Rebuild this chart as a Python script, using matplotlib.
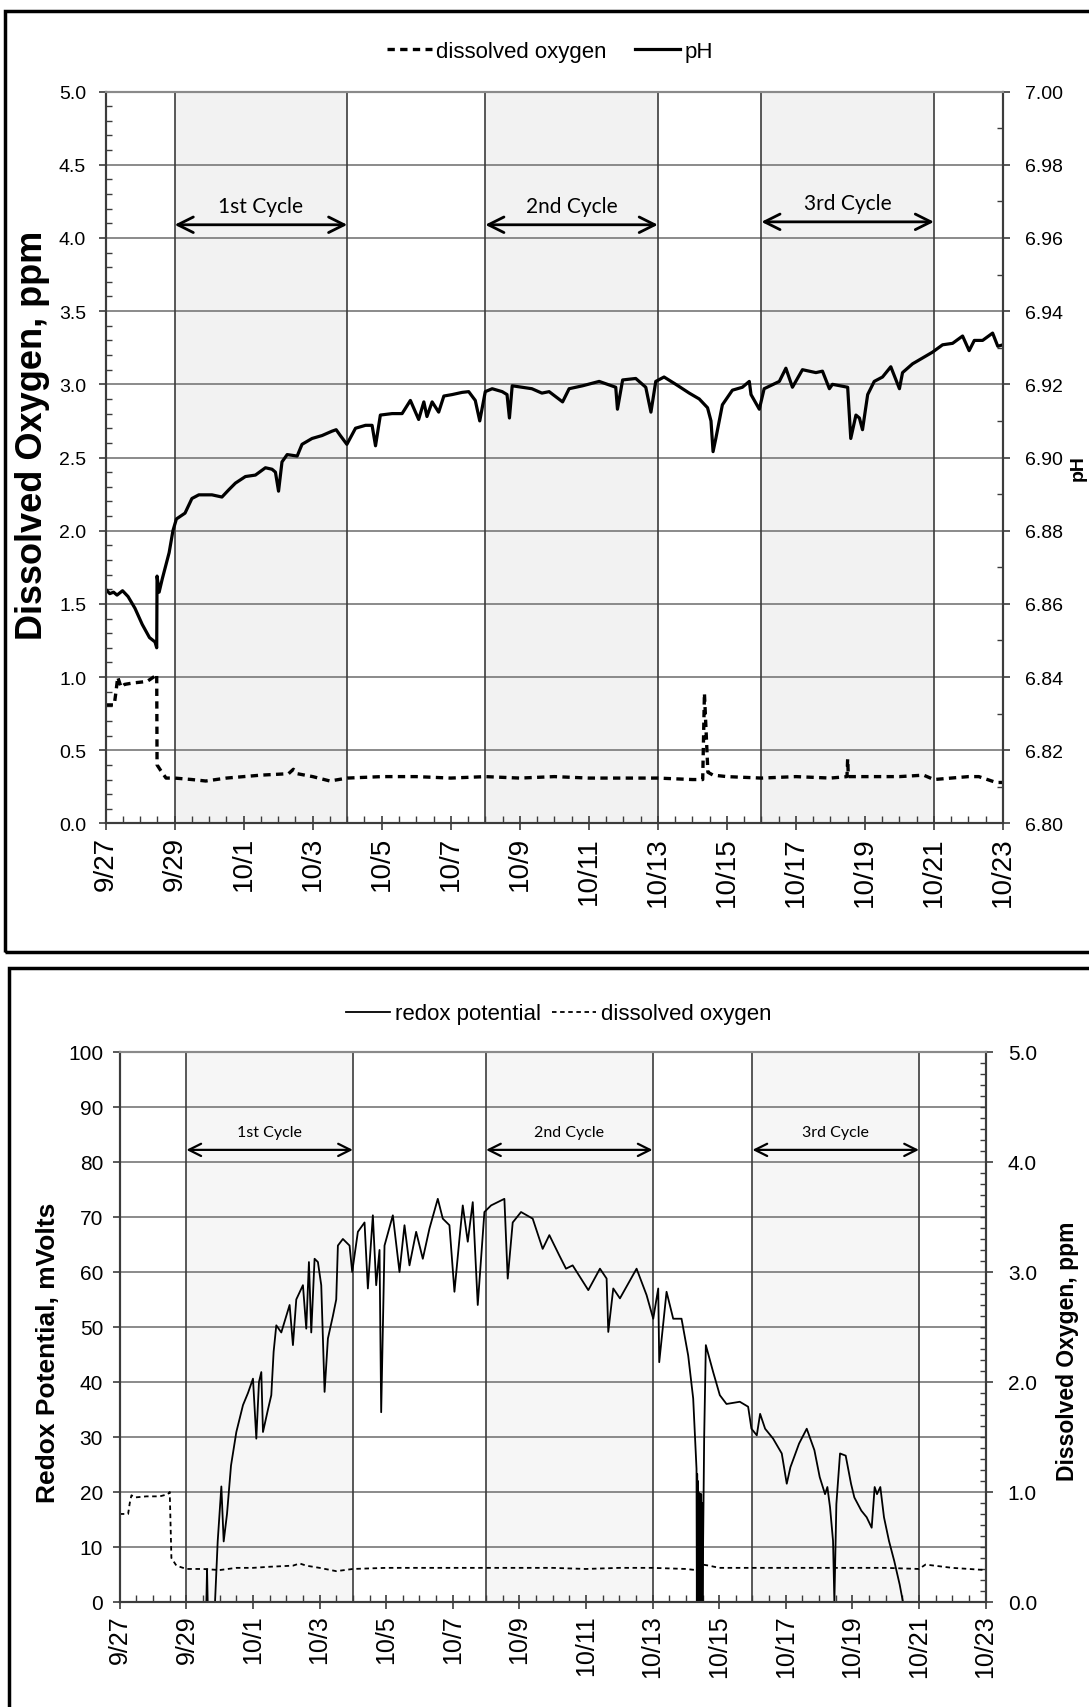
import numpy as np
import matplotlib.pyplot as plt
from matplotlib.patches import Rectangle
from matplotlib.ticker import MultipleLocator

# x axis = days after 9/27
tick_days = [0, 2, 4, 6, 8, 10, 12, 14, 16, 18, 20, 22, 24, 26]
tick_labels = ['9/27', '9/29', '10/1', '10/3', '10/5', '10/7', '10/9', '10/11',
               '10/13', '10/15', '10/17', '10/19', '10/21', '10/23']
cycle_names = ['1st Cycle', '2nd Cycle', '3rd Cycle']
cycle_start = [2, 11, 19]
cycle_end = [7, 16, 24]

# top chart: pH (right axis)
ph_day = [0.00, 0.12, 0.23, 0.33, 0.49, 0.65, 0.85, 1.06, 1.27, 1.43, 1.48, 1.49, 1.55, 1.64,
          1.74, 1.84, 1.95, 2.05, 2.30, 2.50, 2.70, 3.08, 3.37, 3.57, 3.76, 4.05, 4.34, 4.63,
          4.82, 4.92, 5.01, 5.11, 5.26, 5.55, 5.69, 5.98, 6.27, 6.56, 6.68, 6.80, 6.99, 7.24,
          7.53, 7.72, 7.82, 7.96, 8.30, 8.59, 8.83, 9.07, 9.22, 9.31, 9.46, 9.65, 9.80, 10.04,
          10.33, 10.52, 10.71, 10.84, 11.00, 11.20, 11.49, 11.63, 11.70, 11.78, 12.35, 12.64,
          12.85, 13.24, 13.43, 13.82, 14.30, 14.78, 14.83, 14.98, 15.36, 15.65, 15.80, 15.94,
          16.18, 16.52, 16.91, 17.20, 17.44, 17.54, 17.60, 17.68, 17.87, 18.16, 18.45, 18.65,
          18.70, 18.94, 19.08, 19.52, 19.71, 19.90, 20.19, 20.58, 20.77, 20.97, 21.06, 21.50,
          21.59, 21.74, 21.84, 21.93, 22.08, 22.27, 22.51, 22.75, 22.90, 23.00, 23.09, 23.38,
          23.67, 23.96, 24.25, 24.54, 24.83, 25.02, 25.17, 25.41, 25.70, 25.85, 26.00]
ph_val = [6.8640, 6.8628, 6.8632, 6.8624, 6.8636, 6.8620, 6.8588, 6.8544, 6.8508, 6.8496,
          6.8480, 6.8676, 6.8632, 6.8668, 6.8704, 6.8740, 6.8800, 6.8832, 6.8848, 6.8888,
          6.8898, 6.8898, 6.8892, 6.8912, 6.8930, 6.8948, 6.8952, 6.8972, 6.8968, 6.8960,
          6.8908, 6.8988, 6.9008, 6.9004, 6.9036, 6.9052, 6.9060, 6.9072, 6.9076, 6.9060,
          6.9036, 6.9080, 6.9088, 6.9088, 6.9032, 6.9116, 6.9120, 6.9120, 6.9156, 6.9104,
          6.9152, 6.9112, 6.9152, 6.9124, 6.9168, 6.9172, 6.9178, 6.9180, 6.9156, 6.9100,
          6.9180, 6.9188, 6.9180, 6.9172, 6.9108, 6.9196, 6.9188, 6.9176, 6.9180, 6.9152,
          6.9188, 6.9196, 6.9208, 6.9192, 6.9132, 6.9212, 6.9216, 6.9192, 6.9124, 6.9208,
          6.9220, 6.9200, 6.9176, 6.9160, 6.9136, 6.9100, 6.9016, 6.9052, 6.9144, 6.9184,
          6.9192, 6.9208, 6.9172, 6.9132, 6.9188, 6.9208, 6.9244, 6.9192, 6.9240, 6.9232,
          6.9236, 6.9188, 6.9200, 6.9192, 6.9052, 6.9116, 6.9108, 6.9076, 6.9172, 6.9208,
          6.9220, 6.9248, 6.9212, 6.9188, 6.9232, 6.9256, 6.9272, 6.9288, 6.9308, 6.9312,
          6.9332, 6.9292, 6.9320, 6.9320, 6.9340, 6.9304, 6.9308]

# top chart: dissolved oxygen (left axis, ppm)
do1_day = [0.00, 0.25, 0.30, 0.35, 0.45, 0.55, 0.80, 1.20, 1.45, 1.48, 1.49, 1.60, 1.75, 2.00,
           2.50, 2.90, 3.50, 4.00, 4.50, 5.30, 5.44, 5.55, 6.00, 6.50, 7.00, 8.00, 9.00, 10.00,
           11.00, 12.00, 13.00, 14.00, 15.00, 16.00, 17.00, 17.30, 17.35, 17.45, 17.60, 18.00,
           19.00, 20.00, 21.00, 21.48, 21.50, 21.52, 22.00, 23.00, 23.70, 24.00, 25.00, 25.30,
           25.80, 26.00]
do1_val = [0.81, 0.81, 0.90, 1.00, 0.93, 0.95, 0.96, 0.97, 1.01, 1.02, 0.40, 0.36, 0.31, 0.31,
           0.30, 0.29, 0.31, 0.32, 0.33, 0.34, 0.37, 0.34, 0.32, 0.29, 0.31, 0.32, 0.32, 0.31,
           0.32, 0.31, 0.32, 0.31, 0.31, 0.31, 0.30, 0.30, 0.89, 0.35, 0.33, 0.32,
           0.31, 0.32, 0.31, 0.32, 0.44, 0.32, 0.32, 0.32, 0.33, 0.30, 0.32, 0.32,
           0.28, 0.28]

# bottom chart: redox potential (left axis, mV)
redox_day = [0.00, 2.60, 2.62, 2.64, 2.86, 2.94, 3.05, 3.12, 3.22, 3.34, 3.50, 3.70, 3.85, 4.00,
             4.10, 4.18, 4.25, 4.30, 4.45, 4.55, 4.62, 4.70, 4.85, 5.10, 5.20, 5.30, 5.50, 5.60,
             5.68, 5.75, 5.85, 5.95, 6.05, 6.15, 6.25, 6.40, 6.50, 6.55, 6.70, 6.90, 6.98, 7.15,
             7.35, 7.45, 7.60, 7.70, 7.80, 7.85, 7.95, 8.20, 8.40, 8.55, 8.70, 8.90, 9.10, 9.30,
             9.55, 9.70, 9.90, 10.05, 10.20, 10.30, 10.45, 10.60, 10.75, 10.85, 10.95, 11.15,
             11.55, 11.65, 11.80, 12.05, 12.40, 12.70, 12.90, 13.20, 13.40, 13.60, 14.07, 14.42,
             14.62, 14.67, 14.82, 15.02, 15.52, 15.82, 16.02, 16.17, 16.20, 16.42, 16.62, 16.87,
             17.07, 17.22, 17.32, 17.33, 17.34, 17.35, 17.36, 17.37, 17.38, 17.39, 17.40, 17.41,
             17.42, 17.43, 17.44, 17.45, 17.46, 17.47, 17.48, 17.50, 17.55, 17.60, 17.82,
             18.02, 18.22, 18.62, 18.87, 18.97, 19.13, 19.23, 19.38, 19.62, 19.88, 20.03, 20.14,
             20.40, 20.63, 20.86, 21.02, 21.18, 21.25, 21.33, 21.42, 21.46, 21.52, 21.63, 21.80,
             21.96, 22.06, 22.27, 22.43, 22.58, 22.67, 22.74, 22.84, 22.95, 23.10, 23.26, 23.42,
             23.52, 26.00]
redox_val = [0, 0, 6, 0, 0, 11, 21, 11, 16, 24.8, 30.9, 35.8, 38, 40.6,
             29.7, 40, 41.8, 30.9, 35, 37.6, 45.5, 50.3, 49, 54, 46.7, 55, 57.6, 49.7,
             61.8, 49, 62.4, 61.8, 57.6, 38.2, 47.9, 52, 55, 64.8, 66, 64.8, 60, 67.3,
             69, 57, 70.3, 57.6, 64, 34.5, 64.8, 70.3, 60, 68.5, 61.2, 67.3, 62.4, 67.9,
             73.3, 69.7, 68.5, 56.4, 66, 72.1, 65.5, 72.7, 54, 62.4, 70.9, 72.1,
             73.3, 58.8, 69, 70.9, 69.7, 64.2, 66.7, 63, 60.6, 61.2, 56.7, 60.6,
             58.8, 49.1, 57, 55.2, 60.6, 55.8, 51.5, 57, 43.6, 56.4, 51.5, 51.5,
             44.8, 37, 24.2, 0, 23.3, 0, 22, 0, 20, 0, 19.6, 0,
             19.6, 0, 19.6, 0, 19.6, 0, 18, 0, 30, 46.7, 41.8,
             37.6, 36, 36.4, 35.5, 31.5, 30.3, 34.2, 31.5, 29.7, 27, 21.5, 24.5,
             28.8, 31.5, 27.6, 22.7, 19.6, 20.9, 17.2, 11.1, 0, 17.8, 27, 26.6,
             21.5, 19, 16.6, 15.4, 13.5, 20.9, 19.6, 20.9, 15.4, 11.1, 7.4, 3.2,
             0, 0]

# bottom chart: dissolved oxygen (right axis, ppm)
do2_day = [0.00, 0.25, 0.30, 0.35, 0.45, 0.80, 1.20, 1.45, 1.50, 1.55, 1.70, 2.00, 2.50,
           3.00, 3.50, 4.00, 4.50, 5.20, 5.40, 5.60, 6.00, 6.50, 7.00, 8.00, 9.00, 10.00,
           11.00, 12.00, 13.00, 14.00, 15.00, 16.00, 17.00, 17.30, 17.50, 17.70, 18.00,
           19.00, 20.00, 21.00, 22.00, 23.00, 24.00, 24.20, 25.00, 26.00]
do2_val = [0.80, 0.80, 0.90, 0.97, 0.95, 0.96, 0.96, 0.98, 1.00, 0.40, 0.33, 0.30, 0.30,
           0.29, 0.31, 0.31, 0.32, 0.33, 0.35, 0.33, 0.31, 0.28, 0.30, 0.31, 0.31, 0.31,
           0.31, 0.31, 0.31, 0.30, 0.31, 0.31, 0.30, 0.29, 0.34, 0.33, 0.31,
           0.31, 0.31, 0.31, 0.31, 0.31, 0.30, 0.34, 0.31, 0.29]

arial = ['Liberation Sans', 'DejaVu Sans']
calib = ['Lato', 'DejaVu Sans']
grid_c = '#8a8a8a'
spine_c = '#3c3c3c'


def style_axes(ax, axr, ylim, ystep, yminor, rlim, rstep, rminor, yfmt, rfmt,
               xsize, ysize, shade, lpad, rpad):
    ax.set_xlim(0, 26)
    ax.set_ylim(*ylim)
    axr.set_ylim(*rlim)
    for s, e in zip(cycle_start, cycle_end):
        ax.axvspan(s, e, color=shade, zorder=0, lw=0)
        ax.axvline(s, color=spine_c, lw=1.2, zorder=1)
        ax.axvline(e, color=spine_c, lw=1.2, zorder=1)
    ax.yaxis.set_major_locator(MultipleLocator(ystep))
    if yminor:
        ax.yaxis.set_minor_locator(MultipleLocator(yminor))
    ax.yaxis.set_major_formatter(yfmt)
    axr.yaxis.set_major_locator(MultipleLocator(rstep))
    axr.yaxis.set_minor_locator(MultipleLocator(rminor))
    axr.yaxis.set_major_formatter(rfmt)
    ax.grid(axis='y', color=grid_c, lw=1.4, zorder=1)
    ax.set_axisbelow(True)
    ax.set_xticks(tick_days)
    ax.set_xticklabels(tick_labels, rotation=90, family=arial, fontsize=xsize)
    ax.xaxis.set_minor_locator(MultipleLocator(0.5))
    for a in (ax, axr):
        for sp in a.spines.values():
            sp.set_color(spine_c)
            sp.set_linewidth(1.5)
        a.spines['top'].set_color(grid_c)
    ax.tick_params(axis='x', which='major', direction='inout', length=10, width=1.2,
                   color=spine_c, pad=4)
    ax.tick_params(axis='x', which='minor', direction='in', length=5, width=1, color=spine_c)
    ax.tick_params(axis='y', which='major', direction='out', length=5, width=1.2,
                   color=spine_c, pad=lpad)
    ax.tick_params(axis='y', which='minor', direction='in', length=4, width=1, color=spine_c)
    axr.tick_params(axis='y', which='major', direction='out', length=5, width=1.2,
                    color=spine_c, pad=rpad)
    axr.tick_params(axis='y', which='minor', direction='in', length=4, width=1, color=spine_c)
    for lab in ax.get_yticklabels() + axr.get_yticklabels():
        lab.set_family(arial)
        lab.set_fontsize(ysize)


fig = plt.figure(figsize=(10.89, 17.08), dpi=100)
fig.add_artist(Rectangle((0.005, 0.442), 1.0, 0.551, transform=fig.transFigure,
                         fill=False, lw=2.5, ec='black'))
fig.add_artist(Rectangle((0.008, -0.02), 1.0, 0.4527, transform=fig.transFigure,
                         fill=False, lw=2.5, ec='black'))

# ---------------- top chart ----------------
ax1 = fig.add_axes([0.097, 0.5173, 0.824, 0.4285])
ax1r = ax1.twinx()
style_axes(ax1, ax1r, (0, 5), 0.5, 0.1, (6.80, 7.00), 0.02, 0.01, '{x:.1f}', '{x:.2f}',
           20, 14, '#f2f2f2', 9, 11)
l_do, = ax1.plot(do1_day, do1_val, color='black', lw=2.4, dashes=(2.2, 1.6))
l_ph, = ax1r.plot(ph_day, ph_val, color='black', lw=2.3)
for name, s, e, yy in zip(cycle_names, cycle_start, cycle_end, [4.09, 4.09, 4.11]):
    ax1.annotate('', xy=(e, yy), xytext=(s, yy),
                 arrowprops=dict(arrowstyle='<->', lw=2, color='black',
                                 mutation_scale=28, shrinkA=0, shrinkB=0))
    ax1.text((s + e) / 2, yy + 0.13, name, ha='center', va='center', fontsize=15,
             family=calib)
fig.legend([l_do, l_ph], ['dissolved oxygen', 'pH'], loc='center',
           bbox_to_anchor=(0.505, 0.9695), ncol=2, frameon=False,
           prop={'family': arial, 'size': 16}, handlelength=2.0, handletextpad=0.2,
           columnspacing=1.3)
fig.text(0.030, 0.745, 'Dissolved Oxygen, ppm', rotation=90, ha='center', va='center',
         fontsize=26, fontweight='bold', family=arial)
fig.text(0.990, 0.726, 'pH', rotation=90, ha='center', va='center',
         fontsize=14, fontweight='bold', family=arial)

# ---------------- bottom chart ----------------
ax2 = fig.add_axes([0.110, 0.0615, 0.795, 0.322])
ax2r = ax2.twinx()
style_axes(ax2, ax2r, (0, 100), 10, None, (0, 5), 1.0, 0.1, '{x:.0f}', '{x:.1f}',
           18, 15, '#f6f6f6', 7, 11)
l_rx, = ax2.plot(redox_day, redox_val, color='black', lw=1.3)
l_do2, = ax2r.plot(do2_day, do2_val, color='black', lw=1.3, dashes=(2.5, 2.0))
for name, s, e in zip(cycle_names, cycle_start, cycle_end):
    ax2.annotate('', xy=(e, 82.2), xytext=(s, 82.2),
                 arrowprops=dict(arrowstyle='<->', lw=1.6, color='black',
                                 mutation_scale=22, shrinkA=0, shrinkB=0))
    ax2.text((s + e) / 2, 85.5, name, ha='center', va='center', fontsize=11.5,
             family=calib)
fig.legend([l_rx, l_do2], ['redox potential', 'dissolved oxygen'], loc='center',
           bbox_to_anchor=(0.513, 0.4058), ncol=2, frameon=False,
           prop={'family': arial, 'size': 16}, handlelength=2.0, handletextpad=0.2,
           columnspacing=0.5)
fig.text(0.044, 0.208, 'Redox Potential, mVolts', rotation=90, ha='center', va='center',
         fontsize=19, fontweight='bold', family=arial)
fig.text(0.980, 0.209, 'Dissolved Oxygen, ppm', rotation=90, ha='center', va='center',
         fontsize=16.5, fontweight='bold', family=arial)

fig.savefig('out.png', dpi=100)
